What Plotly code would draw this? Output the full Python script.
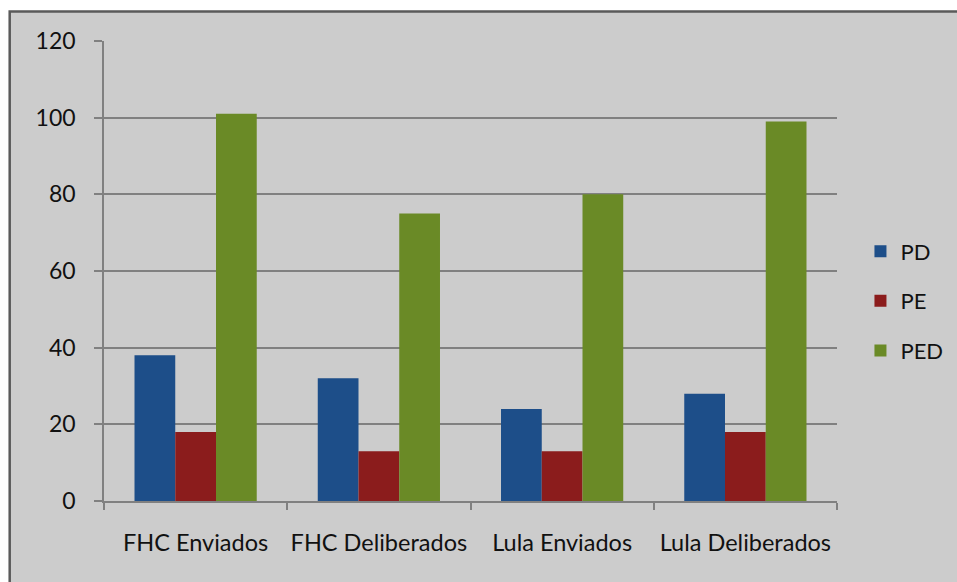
import plotly.graph_objects as go

# Proposições por governo: enviadas e deliberadas
categories = ["FHC Enviados", "FHC Deliberados", "Lula Enviados", "Lula Deliberados"]
pd_values = [38, 32, 24, 28]
pe_values = [18, 13, 13, 18]
ped_values = [101, 75, 80, 99]
y_ticks = [0, 20, 40, 60, 80, 100, 120]

series = [
    ("PD", pd_values, "#1d4e89"),
    ("PE", pe_values, "#8b1c1c"),
    ("PED", ped_values, "#6a8a26"),
]

W, H = 957, 582
ML, MR, MT, MB = 104, 120, 41, 81
plot_w = W - ML - MR
plot_h = H - MT - MB

fig = go.Figure()
for name, vals, color in series:
    fig.add_trace(go.Bar(
        name=name, x=categories, y=vals, legendgroup=name,
        marker=dict(color=color, line=dict(width=0)),
    ))

def px_x(px):
    return (px - ML) / plot_w

def px_y(py):
    return (H - MB - py) / plot_h

# grey chart area with dark frame, running off the right and bottom edges
fig.add_shape(
    type="rect", xref="paper", yref="paper", layer="below",
    x0=px_x(9.7), x1=px_x(W + 20), y0=px_y(H + 20), y1=px_y(11.5),
    fillcolor="#cccccc", line=dict(color="#5a5a5a", width=2.5),
)

font = "Lato, 'Noto Sans', sans-serif"
text_color = "#111111"
fig.update_layout(
    width=W, height=H,
    margin=dict(l=ML, r=MR, t=MT, b=MB, pad=0, autoexpand=False),
    paper_bgcolor="white", plot_bgcolor="rgba(0,0,0,0)",
    barmode="group", bargap=0.333, bargroupgap=0,
    font=dict(family=font, size=23, color=text_color),
    legend=dict(
        x=1.032, xanchor="left", y=0.435, yanchor="middle",
        font=dict(size=22, color=text_color),
        bgcolor="rgba(0,0,0,0)", tracegroupgap=18, traceorder="grouped",
        itemwidth=30,
    ),
    xaxis=dict(
        type="category", showgrid=False, showline=True, linecolor="#808080",
        linewidth=1.5, ticks="outside", tickson="boundaries", ticklen=7,
        tickcolor="#808080", tickwidth=1.5, ticklabelstandoff=20,
        tickangle=0, automargin=False, tickfont=dict(size=23.5),
    ),
    yaxis=dict(
        range=[0, 120], tickvals=y_ticks, showgrid=True, gridcolor="#808080",
        gridwidth=1.5, showline=True, linecolor="#808080", linewidth=1.5,
        ticks="outside", ticklen=8, tickcolor="#808080", tickwidth=1.5,
        zeroline=False, ticklabelstandoff=14, automargin=False,
        tickfont=dict(size=23),
    ),
)

fig.write_html("out.html")
